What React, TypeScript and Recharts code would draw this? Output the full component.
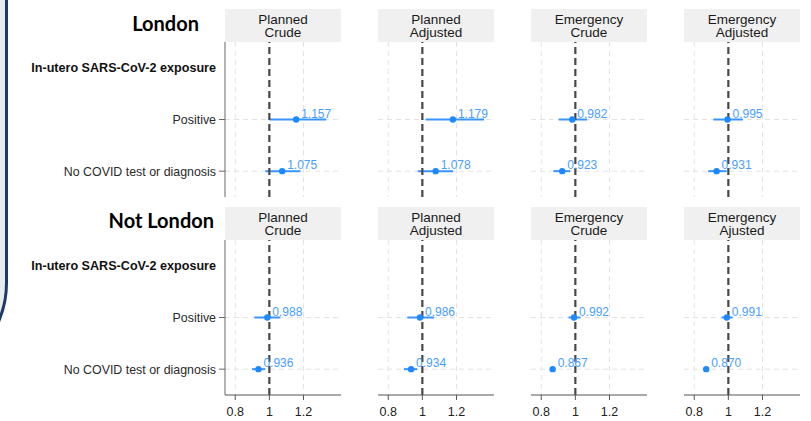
import React from "react";
import {
  ScatterChart,
  Scatter,
  XAxis,
  YAxis,
  CartesianGrid,
  ReferenceLine,
  ErrorBar,
} from "recharts";

// facets
const regions = ["London", "Not London"];
const panelTitles = [
  ["Planned\nCrude", "Planned\nAdjusted", "Emergency\nCrude", "Emergency\nAdjusted"],
  ["Planned\nCrude", "Planned\nAdjusted", "Emergency\nCrude", "Emergency\nAjusted"],
];
const rowLabels = [
  "In-utero SARS-CoV-2 exposure",
  "Positive",
  "No COVID test or diagnosis",
];
const xTicks = [0.8, 1, 1.2];

// per panel: [Positive, No COVID test or diagnosis]
const londonOR = [[1.157, 1.075], [1.179, 1.078], [0.982, 0.923], [0.995, 0.931]];
const londonLow = [[1.0, 0.976], [1.02, 0.973], [0.902, 0.872], [0.912, 0.882]];
const londonHigh = [[1.333, 1.182], [1.362, 1.18], [1.069, 0.97], [1.085, 0.99]];

const notLondonOR = [[0.988, 0.936], [0.986, 0.934], [0.992, 0.867], [0.991, 0.87]];
const notLondonLow = [[0.912, 0.898], [0.912, 0.892], [0.96, 0.858], [0.96, 0.862]];
const notLondonHigh = [[1.065, 0.976], [1.068, 0.97], [1.03, 0.876], [1.025, 0.878]];

const orByRegion = [londonOR, notLondonOR];
const lowByRegion = [londonLow, notLondonLow];
const highByRegion = [londonHigh, notLondonHigh];

const PLOT_LEFT = [225, 378, 531, 684];
const PLOT_TOP = [42, 240];
const PLOT_W = 116;
const PLOT_H = 155;

function RowTick({ x, y, payload }: any) {
  const i = payload.value;
  return (
    <g>
      {i > 0 && <line x1={x + 3} x2={x + 9} y1={y} y2={y} stroke="#666" />}
      <text
        x={x}
        y={y}
        dy="0.35em"
        textAnchor="end"
        fontSize={i === 0 ? 12.6 : 12.4}
        fontWeight={i === 0 ? 700 : 400}
        fill={i === 0 ? "#111" : "#2a2a2a"}
      >
        {rowLabels[i]}
      </text>
    </g>
  );
}

function Dot(props: any) {
  const { cx, cy, payload } = props;
  return (
    <g>
      <circle cx={cx} cy={cy} r={3.2} fill="#1e88ff" />
      <text x={cx + 5} y={cy - 2} fontSize={12} fill="#4a9eff">
        {payload.or.toFixed(3)}
      </text>
    </g>
  );
}

function Panel({ row, col }: { row: number; col: number }) {
  const showY = col === 0;
  const showX = row === 1;
  const yW = showY ? 200 : 0;
  const xH = showX ? 26 : 0;
  const data = [1, 2].map((y, k) => ({
    y,
    or: orByRegion[row][col][k],
    lo: lowByRegion[row][col][k],
    hi: highByRegion[row][col][k],
  }));
  return (
    <div
      style={{
        position: "absolute",
        left: PLOT_LEFT[col] - yW,
        top: PLOT_TOP[row] - 2,
      }}
    >
      <ScatterChart
        width={yW + PLOT_W + 2}
        height={PLOT_H + 2 + xH}
        margin={{ top: 2, right: 2, bottom: 0, left: 0 }}
      >
        <CartesianGrid
          verticalValues={[0.8, 1.2]}
          horizontalValues={[1, 2]}
          stroke="#e3e3e3"
          strokeDasharray="5 4"
        />
        <XAxis
          type="number"
          dataKey="or"
          scale="linear"
          domain={[0.74, 1.42]}
          ticks={xTicks}
          interval={0}
          allowDataOverflow
          hide={!showX}
          height={26}
          tickSize={5}
          tickMargin={7}
          stroke="#555"
          tick={{ fill: "#222", fontSize: 12.5 }}
        />
        <YAxis
          type="number"
          dataKey="y"
          domain={[-0.5, 2.5]}
          reversed
          ticks={[0, 1, 2]}
          interval={0}
          allowDataOverflow
          hide={!showY}
          width={200}
          tickLine={false}
          tickSize={6}
          tickMargin={3}
          axisLine={{ stroke: "#666" }}
          tick={<RowTick />}
        />
        <Scatter data={data} shape={<Dot />} isAnimationActive={false}>
          <ErrorBar
            dataKey={(d: any) => [d.or - d.lo, d.hi - d.or]}
            direction="x"
            width={0}
            stroke="#3a94ff"
            strokeWidth={2}
            isAnimationActive={false}
          />
        </Scatter>
        <ReferenceLine x={1} stroke="#474747" strokeWidth={2.2} strokeDasharray="7 4" />
      </ScatterChart>
    </div>
  );
}

export default function App() {
  return (
    <div
      style={{
        position: "absolute",
        left: 0,
        top: 0,
        width: 811,
        height: 421,
        background: "#fff",
        fontFamily: "'Liberation Sans', Arial, sans-serif",
        overflow: "hidden",
      }}
    >
      <svg width={20} height={421} style={{ position: "absolute", left: 0, top: 0 }}>
        <path d="M -100 -2 H 6.5 V 283 A 97.5 97.5 0 0 1 -91 380.5 Z" fill="#e7ecf1" />
        <path
          d="M 6.5 -2 V 283 A 97.5 97.5 0 0 1 -91 380.5"
          fill="none"
          stroke="#1f3864"
          strokeWidth={3}
        />
      </svg>
      {regions.map((name, r) => (
        <div
          key={name}
          style={{
            position: "absolute",
            right: 811 - (r === 0 ? 199 : 214),
            top: PLOT_TOP[r] - 33 + (r === 0 ? 2 : 1),
            fontFamily: "Lato, 'Open Sans', sans-serif",
            fontWeight: 700,
            fontSize: 20,
            color: "#000",
            whiteSpace: "nowrap",
          }}
        >
          {name}
        </div>
      ))}
      {panelTitles.map((titles, r) =>
        titles.map((t, c) => (
          <div
            key={`${r}-${c}`}
            style={{
              position: "absolute",
              left: PLOT_LEFT[c],
              top: PLOT_TOP[r] - 33,
              width: PLOT_W,
              height: 33,
              background: "#f0f0f0",
              display: "flex",
              alignItems: "center",
              justifyContent: "center",
              textAlign: "center",
              whiteSpace: "pre-line",
              fontSize: 13.5,
              lineHeight: "13px",
              color: "#1a1a1a",
            }}
          >
            {t}
          </div>
        ))
      )}
      {[0, 1].map((r) =>
        [0, 1, 2, 3].map((c) => <Panel key={`p${r}${c}`} row={r} col={c} />)
      )}
    </div>
  );
}
